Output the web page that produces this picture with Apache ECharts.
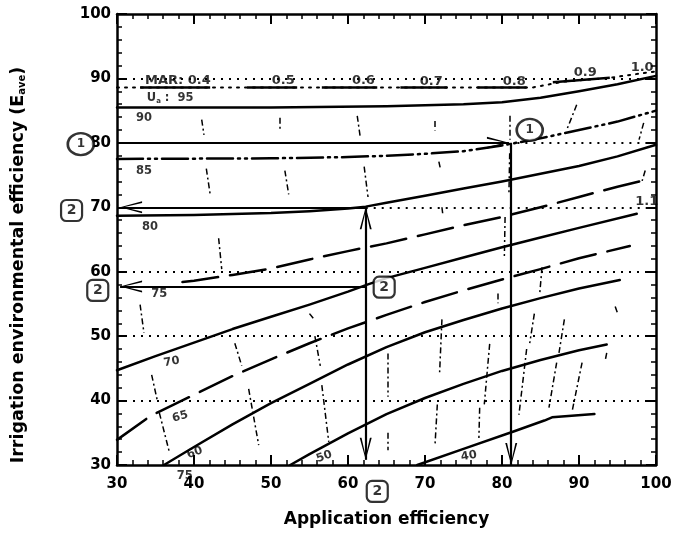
<!DOCTYPE html>
<html><head><meta charset="utf-8">
<script src="https://cdn.jsdelivr.net/npm/echarts@6/dist/echarts.min.js"></script>
<style>html,body{margin:0;padding:0;background:#fff}#c{width:677px;height:544px}</style>
</head><body><div id="c"></div>
<script>
// ---------- data ----------
const xTitle = 'Application efficiency';
const yTitleMain = 'Irrigation environmental efficiency (E';
const yTitleSub = 'ave';
const xRange = [30, 100];
const yRange = [30, 100];

// Uniformity (Ua) curves
const ua95Dots = [[30,88.6],[84,88.6],[88,89.5],[94,90.1],[100,91.1]];
const ua95Dashes = [
  [[33,88.6],[42.1,88.6]], [[46.9,88.6],[53.4,88.6]], [[56.6,88.6],[63.8,88.6]],
  [[66.8,88.6],[72.9,88.6]], [[76.8,88.6],[83.2,88.6]], [[86.6,89.4],[94,90.1]]
];
const ua90 = [[30,85.5],[50,85.5],[65,85.7],[75,86.0],[80,86.3],[85,87.0],[90,88.0],[95,89.1],[100,90.4]];
const ua85 = [[30,77.5],[50,77.6],[60,77.8],[65,78.0],[70,78.3],[75,78.7],[80,79.6],[85,80.7],[90,82.0],[95,83.3],[100,85.0]];
const ua80 = [[30,68.7],[40,68.8],[50,69.1],[55,69.4],[60,69.8],[62.3,70.1],[65,70.7],[70,71.8],[75,72.9],[80,74.0],[85,75.2],[90,76.4],[95,77.9],[100,79.7]];
const ua75 = [[38.5,58.4],[40,58.6],[45,59.5],[50,60.5],[55,61.9],[60,63.2],[65,64.4],[70,65.8],[75,67.2],[80,68.5],[85,70.0],[90,71.6],[95,73.2],[98.5,74.2]];
const ua70 = [[30,44.7],[35,46.9],[40,49.0],[45,51.1],[50,53.0],[55,54.9],[60,56.9],[62.5,58.0],[65,59.0],[70,60.6],[75,62.2],[80,63.8],[85,65.3],[90,66.8],[97.5,69.0]];
const ua65 = [[30,33.9],[34.2,37.5],[35.5,38.3],[40,40.9],[45,43.8],[50,46.4],[55,48.9],[60,51.2],[65,53.3],[70,55.3],[75,57.1],[80,58.8],[85,60.4],[90,62.1],[96.6,64.0]];
const ua60 = [[36.1,30],[40,32.8],[45,36.3],[50,39.6],[55,42.6],[60,45.6],[65,48.3],[70,50.6],[75,52.5],[80,54.3],[85,55.9],[90,57.4],[95.3,58.7]];
const ua50 = [[52.5,30],[55,31.7],[60,34.9],[65,37.9],[70,40.4],[75,42.6],[80,44.6],[85,46.3],[90,47.8],[93.6,48.7]];
const ua40 = [[69,30],[75,32.5],[81.5,35.2],[85.5,36.9],[86.5,37.4],[92,37.9]];

// MAR (near-vertical dash-dot) fragments
const marSegments = [
  [[41.0,83.6],[41.3,81.25]], [[51.2,83.9],[51.2,82.0]], [[61.2,84.2],[61.6,80.8]],
  [[41.6,76.0],[42.1,72.0]], [[51.8,75.7],[52.3,72.0]], [[62.1,76.3],[62.6,71.6]],
  [[43.2,65.2],[43.6,60.4]], [[71.3,83.4],[71.3,81.9]], [[71.8,77.1],[72.0,76.0]],
  [[81.0,84.2],[81.0,80.5]], [[81.0,78.4],[80.9,72.1]], [[89.7,85.9],[88.4,82.0]],
  [[98.4,83.1],[97.8,80.5]], [[98.6,75.7],[98.2,74.1]], [[80.4,68.5],[80.3,62.0]],
  [[72.2,70.0],[72.3,69.0]],
  [[33.0,54.9],[33.5,50.5]], [[34.5,44.0],[35.2,40.2]], [[35.5,38.1],[36.8,32.0]],
  [[45.3,48.9],[46.2,45.4]], [[47.1,41.8],[48.4,33.1]], [[55.0,53.5],[55.6,52.6]],
  [[55.7,50.0],[56.4,45.4]], [[56.6,42.4],[57.5,33.6]], [[79.4,56.6],[79.4,55.1]],
  [[85.2,60.7],[84.9,56.6]], [[84.2,53.5],[83.6,48.9]], [[72.2,52.6],[71.9,44.4]],
  [[78.4,48.8],[77.7,39.4]], [[71.6,39.4],[71.3,33.1]], [[77.1,38.9],[77.0,34.2]],
  [[83.2,48.0],[82.2,37.8]], [[88.1,52.6],[87.4,47.4]], [[87.1,45.9],[86.1,38.9]],
  [[90.4,45.9],[89.1,38.3]], [[93.6,47.4],[93.4,46.2]], [[65.1,47.3],[65.1,40.6]],
  [[65.1,35.0],[65.1,32.3]], [[94.7,54.6],[95.0,53.6]]
];

// dotted reference lines
const dottedLines = [
  [[30,90],[100,90]], [[82,80],[100,80]], [[62.3,70],[100,70]],
  [[30,60],[100,60]], [[30,50],[100,50]], [[30,40],[100,40]]
];

// arrows
const arrowsEnd = [
  [[30,80],[80.9,80]], [[81.2,80],[81.2,30]],
  [[62.3,70],[30.4,70]], [[62.3,57.7],[30.4,57.7]]
];
const arrowsBoth = [[[62.3,30.8],[62.3,70]]];

// annotation markers
const circleMarks = [[83.6,82.0],[25.3,79.8]];
const boxMarks = [[64.7,57.6],[24.1,69.5],[27.5,57.1],[63.8,25.9]];

// in-plot text labels [text, x, y, rotate]
const uaLabels = [
  ['90',33.5,83.9,0], ['85',33.5,75.7,0], ['80',34.3,67.0,0], ['75',35.5,56.5,0],
  ['70',37.1,46.0,10], ['65',38.2,37.5,15], ['60',40.1,31.9,20], ['50',56.9,31.3,20],
  ['40',75.7,31.4,10], ['75',38.8,28.3,0]
];
const uaTopLabel = [36.9,86.9];
const marLabels = [
  ['MAR: 0.4',37.9,89.6], ['0.5',51.6,89.6], ['0.6',62.0,89.6], ['0.7',70.8,89.5],
  ['0.8',81.6,89.5], ['0.9',90.8,90.9], ['1.0',98.2,91.7], ['1.1',98.8,70.9]
];

// ---------- chart ----------
const FONT = 'DejaVu Sans';
const chart = echarts.init(document.getElementById('c'), null, {renderer:'canvas'});
const arrowPath = 'path://M0,0L0.01,0ZM44,0L44.01,0ZM22,22L28,44L26.2,44L22,25.5L17.8,44L16,44Z';

function curve(data, type, width) {
  return {type:'line', data, showSymbol:false, symbol:'none', smooth:false,
    lineStyle:{color:'#000', width:width, type:type, join:'round', cap:'round'}, z:4, silent:true, animation:false};
}
function segs(list, style, z, symbol) {
  return {type:'lines', coordinateSystem:'cartesian2d', polyline:false,
    data:list.map(c=>({coords:c})), lineStyle:Object.assign({color:'#000', opacity:1}, style),
    symbol: symbol || ['none','none'], symbolSize:44, itemStyle:{color:'#000'},
    z:z, silent:true, animation:false};
}
function axis(pos, show) {
  const horiz = (pos==='top'||pos==='bottom');
  return {type:'value', position:pos, min: horiz? xRange[0]:yRange[0],
    max: horiz? xRange[1]:yRange[1], interval:10,
    axisLine:{show:true, onZero:false, lineStyle:{color:'#000', width:2.5}},
    axisTick:{show:true, inside:true, length:10, lineStyle:{color:'#000', width:2}},
    minorTick:{show:true, splitNumber:5, length:5, lineStyle:{color:'#000', width:1.5}},
    splitLine:{show:false},
    axisLabel:{show:show, color:'#000', fontFamily:FONT, fontWeight:'bold', fontSize:15,
      margin: (pos==='bottom')?12:6}};
}

const textItems = uaLabels.map(l=>({value:[l[1],l[2]], label:{formatter:l[0], rotate:l[3]}}))
  .concat(marLabels.map(l=>({value:[l[1],l[2]], label:{formatter:l[0], fontSize:13}})))
  .concat([{value:uaTopLabel, label:{formatter:'{b|U}{s|a}{b| :  95}'}}]);

const option = {
  animation:false,
  backgroundColor:'#fff',
  grid:{left:117, right:21, top:14, bottom:79},
  xAxis:[Object.assign(axis('bottom', true), {name:xTitle, nameLocation:'middle', nameGap:46,
      nameTextStyle:{color:'#000', fontFamily:FONT, fontWeight:'bold', fontSize:17}}),
    axis('top', false)],
  yAxis:[axis('left', true), axis('right', false)],
  graphic:[{type:'text', x:18, y:265, rotation:Math.PI/2,
    style:{text:'{a|'+yTitleMain+'}{s|'+yTitleSub+'}{a|)}', align:'center', verticalAlign:'middle',
      rich:{a:{fontFamily:FONT, fontWeight:'bold', fontSize:17.5, fill:'#000'},
            s:{fontFamily:FONT, fontWeight:'bold', fontSize:10, fill:'#000', verticalAlign:'bottom'}}}}],
  series:[
    segs(dottedLines, {width:2, type:[2,6]}, 2),
    segs(marSegments, {width:1.5, type:[6,3,2,3]}, 2),
    curve(ua95Dots, [2,6], 2),
    segs(ua95Dashes, {width:2.5, type:'solid'}, 4),
    curve(ua90, 'solid', 2.5),
    curve(ua85, [26,5,2,5,2,5], 2.5),
    curve(ua80, 'solid', 2.5),
    curve(ua75, [36,12], 2.5),
    curve(ua70, 'solid', 2.5),
    curve(ua65, [36,12], 2.5),
    curve(ua60, 'solid', 2.5),
    curve(ua50, 'solid', 2.5),
    curve(ua40, 'solid', 2.5),
    segs(arrowsEnd, {width:2.2, type:'solid'}, 6, ['none', arrowPath]),
    segs(arrowsBoth, {width:2.2, type:'solid'}, 6, [arrowPath, arrowPath]),
    {type:'scatter', data:circleMarks, clip:false, symbol:'circle', symbolSize:[26,22], z:8,
      itemStyle:{color:'#fff', borderColor:'#000', borderWidth:2.5},
      label:{show:true, position:'inside', formatter:'1', color:'#000', fontFamily:FONT, fontWeight:'bold', fontSize:12},
      silent:true},
    {type:'scatter', data:boxMarks, clip:false, symbol:'roundRect', symbolSize:21, z:8,
      itemStyle:{color:'#fff', borderColor:'#000', borderWidth:2.2},
      label:{show:true, position:'inside', formatter:'2', color:'#000', fontFamily:FONT, fontWeight:'bold', fontSize:14},
      silent:true},
    {type:'scatter', data:textItems, clip:false, symbolSize:0, z:9, silent:true,
      label:{show:true, position:'inside', color:'#000', fontFamily:FONT, fontWeight:'bold', fontSize:11.5,
        rich:{b:{fontFamily:FONT, fontWeight:'bold', fontSize:11.5, color:'#000'},
              s:{fontFamily:FONT, fontWeight:'bold', fontSize:7, color:'#000', verticalAlign:'bottom'}}}}
  ]
};
chart.setOption(option);
</script></body></html>
